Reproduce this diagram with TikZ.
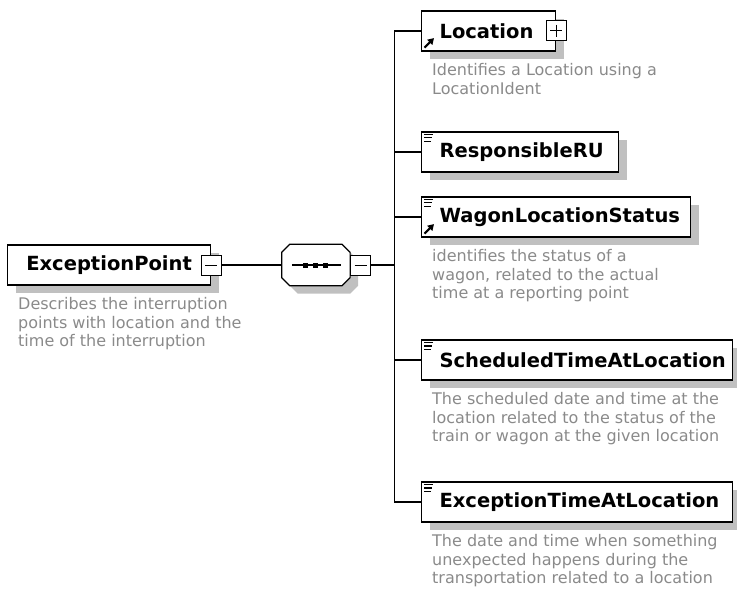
\documentclass[tikz,border=0pt]{standalone}
\usepackage{fontspec}
\setmainfont{DejaVu Sans}
\usetikzlibrary{positioning,shadows,arrows.meta}
\definecolor{shadowgray}{HTML}{C0C0C0}
\definecolor{descgray}{HTML}{8A8A8A}
\tikzset{
  boxed/.style={draw, line width=1.2pt, fill=white, minimum height=40pt, inner sep=0pt,
    general shadow={fill=shadowgray, shadow xshift=8pt, shadow yshift=-8pt}},
  root/.style={boxed, anchor=west, align=center, font=\bfseries\fontsize{19.5}{22}\selectfont},
  elem/.style={boxed, anchor=west, align=left, font=\bfseries\fontsize{19.5}{22}\selectfont,
    execute at begin node={\hspace*{18pt}}},
  desc/.style={anchor=north west, align=left, inner sep=0pt, text=descgray,
    font=\fontsize{16}{18.5}\selectfont},
  toggle/.style={draw, fill=white, line width=1pt, minimum size=20pt, inner sep=0pt},
  minusbox/.style={toggle, path picture={
    \draw[line width=1pt] ([xshift=4pt]path picture bounding box.west) -- ([xshift=-4pt]path picture bounding box.east);}},
  plusbox/.style={toggle, path picture={
    \draw[line width=1pt] ([xshift=4pt]path picture bounding box.west) -- ([xshift=-4pt]path picture bounding box.east);
    \draw[line width=1pt] ([yshift=-4pt]path picture bounding box.north) -- ([yshift=4pt]path picture bounding box.south);}},
  seqbox/.style={minimum width=68pt, minimum height=41pt, inner sep=0pt, anchor=west},
  % octagon round a node, #2 = offset (shadow)
  octagon/.style 2 args={insert path={
    ([shift={(#2+8,#2)}]#1.north west) -- ([shift={(#2-8,#2)}]#1.north east)
    -- ([shift={(#2,#2+8)}]#1.north east) -- ([shift={(#2,#2-8)}]#1.south east)
    -- ([shift={(#2-8,#2)}]#1.south east) -- ([shift={(#2+8,#2)}]#1.south west)
    -- ([shift={(#2,#2-8)}]#1.south west) -- ([shift={(#2,#2+8)}]#1.north west) -- cycle}},
  conn/.style={line width=1.2pt},
}
% little marks in the element corners
\newcommand{\simpletype}[1]{%
  \foreach \ly/\lx in {3/12,6.5/11,10/10}
    \draw[line width=1.2pt, shift={(#1.north west)}] (3,\ly) -- (\lx,\ly);}
\newcommand{\refmark}[1]{%
  \draw[line width=2pt, -{Triangle[length=6pt,width=7pt]}, shift={(#1.south west)}] (3.5,-4) -- (13,-13.5);}
\begin{document}
\begin{tikzpicture}[x=1pt,y=-1pt]
\useasboundingbox (0,0) rectangle (737,599);

% root element
\node[root, text width=203pt] (ep) at (7,265) {ExceptionPoint};
\node[minusbox] (epminus) at (ep.east) {};
\node[desc] (epdesc) at ([xshift=11pt,yshift=-12pt]ep.south west)
  {Describes the interruption\\points with location and the\\time of the interruption};

% sequence
\node[seqbox, right=60pt of epminus] (seq) {};
\fill[shadowgray, octagon={seq}{8}];
\draw[line width=1.2pt, fill=white, octagon={seq}{0}];
\draw[line width=1.2pt] ([xshift=-24pt]seq.center) -- ([xshift=25pt]seq.center);
\foreach \dx in {-10,0,10}
  \fill ([xshift=\dx pt]seq.center) +(-2.5,-2.5) rectangle +(2.5,2.5);
\node[minusbox, anchor=west] (seqminus) at (seq.east) {};
\coordinate[right=23pt of seqminus] (trunk);
\draw[conn] (epminus) -- (seq);
\draw[conn] (seqminus) -- (trunk);

% children
\node[elem, text width=134pt] (loc) at (421,31) {Location};
\node[plusbox] (locplus) at (loc.east) {};
\refmark{loc}
\node[desc] (locdesc) at ([xshift=11pt,yshift=-12pt]loc.south west)
  {Identifies a Location using a\\LocationIdent};

\node[elem, text width=197pt] (rru) at (421,152) {ResponsibleRU};
\simpletype{rru}

\node[elem, text width=269pt] (wls) at (421,217) {WagonLocationStatus};
\simpletype{wls}
\refmark{wls}
\node[desc] (wlsdesc) at ([xshift=11pt,yshift=-12pt]wls.south west)
  {identifies the status of a\\wagon, related to the actual\\time at a reporting point};

\node[elem, text width=311pt] (stl) at (421,360) {ScheduledTimeAtLocation};
\simpletype{stl}
\node[desc] (stldesc) at ([xshift=11pt,yshift=-12pt]stl.south west)
  {The scheduled date and time at the\\location related to the status of the\\train or wagon at the given location};

\node[elem, text width=311pt] (etl) at (421,502) {ExceptionTimeAtLocation};
\simpletype{etl}
\node[desc] (etldesc) at ([xshift=11pt,yshift=-12pt]etl.south west)
  {The date and time when something\\unexpected happens during the\\transportation related to a location};

\foreach \child in {loc,rru,wls,stl,etl}
  \draw[conn] (trunk) |- (\child.west);
\end{tikzpicture}
\end{document}
